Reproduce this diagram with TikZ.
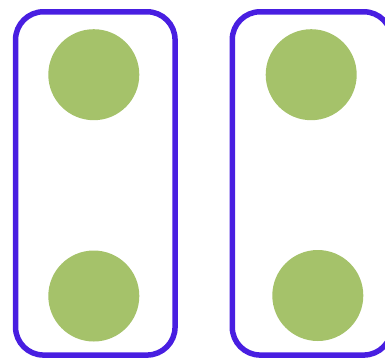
\documentclass[tikz,border=0pt]{standalone}
\usepackage{tikz}
\definecolor{boxblue}{RGB}{72,30,225}
\definecolor{dotgreen}{RGB}{165,194,106}
\tikzset{
  box/.style={draw=boxblue,line width=5.5pt,rounded corners=28pt,minimum width=159.5pt,minimum height=343.3pt,inner sep=0pt},
  dot/.style={circle,fill=dotgreen,minimum size=91pt,inner sep=0pt},
}
\begin{document}
\begin{tikzpicture}[x=1pt,y=-1pt]
\useasboundingbox (0,0) rectangle (385,360);
\clip (0,0) rectangle (385,360);
\node[box] (boxL) at (95.3,183.4){};
\node[box] (boxR) at (312,183.4){};
\foreach \n/\x/\y in {LT/93.8/74.7,LB/93.8/296,RT/311.2/74.7,RB/317.8/295.5}{\node[dot] (\n) at (\x,\y){};}
\end{tikzpicture}
\end{document}
